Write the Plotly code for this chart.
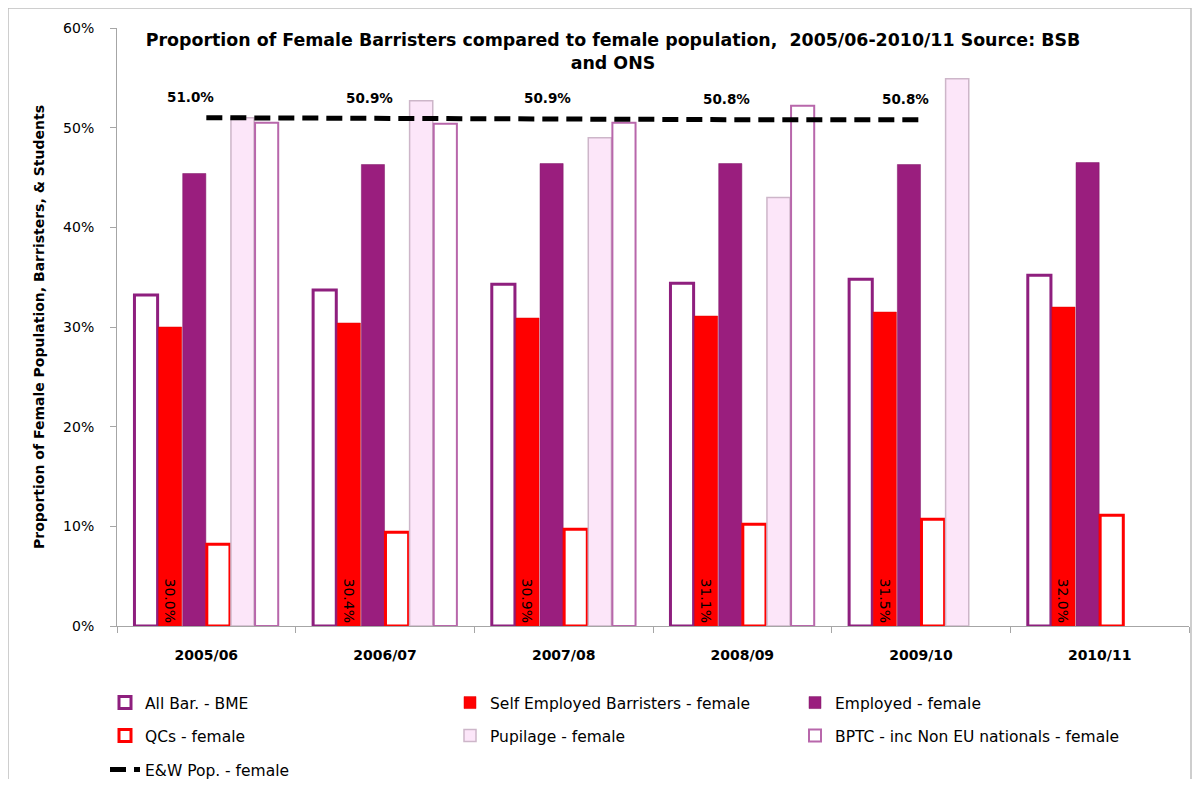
import plotly.graph_objects as go

categories = ["2005/06", "2006/07", "2007/08", "2008/09", "2009/10", "2010/11"]
all_bar_bme = [0.332, 0.337, 0.343, 0.344, 0.348, 0.352]
self_employed = [0.300, 0.304, 0.309, 0.311, 0.315, 0.320]
employed = [0.454, 0.463, 0.464, 0.464, 0.463, 0.465]
qcs = [0.082, 0.094, 0.097, 0.102, 0.107, 0.111]
pupilage = [0.510, 0.527, 0.490, 0.430, 0.549, None]
bptc = [0.505, 0.504, 0.505, 0.522, None, None]
ew_pop = [0.510, 0.509, 0.509, 0.508, 0.508]
y_ticks = [0, 0.1, 0.2, 0.3, 0.4, 0.5, 0.6]

# page body margin of 8px offsets the figure inside the window
OFF = 8
W, H = 1184, 771
L, T = 117 - OFF, 28 - OFF
R = W - (1189 - OFF)
B = H - (626 - OFF)
PW, PH = W - L - R, H - T - B

def px_x(p):
    return (p - OFF - L) / PW

def px_y(p):
    return (H - B - (p - OFF)) / PH

FONT = "DejaVu Sans"

fig = go.Figure()
fig.add_trace(go.Bar(name="All Bar. - BME", x=categories, y=all_bar_bme,
                     marker=dict(color="white", line=dict(color="#8E1F7E", width=3)),
                     legend="legend"))
fig.add_trace(go.Bar(name="Self Employed Barristers - female", x=categories, y=self_employed,
                     marker=dict(color="#FF0000", line=dict(color="#E00000", width=0.5)),
                     text=[f"{v*100:.1f}%" for v in self_employed],
                     textposition="inside", insidetextanchor="start", textangle=90,
                     textfont=dict(color="black", size=14, family=FONT),
                     legend="legend"))
fig.add_trace(go.Bar(name="Employed - female", x=categories, y=employed,
                     marker=dict(color="#9A1E7E", line=dict(color="#7E1767", width=0.5)),
                     legend="legend"))
fig.add_trace(go.Bar(name="QCs - female", x=categories, y=qcs,
                     marker=dict(color="white", line=dict(color="#FF0000", width=3)),
                     legend="legend2"))
fig.add_trace(go.Bar(name="Pupilage - female", x=categories, y=pupilage,
                     marker=dict(color="#FCE6F9", line=dict(color="#CDB6C9", width=1.5)),
                     legend="legend2"))
fig.add_trace(go.Bar(name="BPTC - inc Non EU nationals - female", x=categories, y=bptc,
                     marker=dict(color="white", line=dict(color="#B867AB", width=2)),
                     legend="legend2"))
fig.add_trace(go.Scatter(name="E&W Pop. - female", x=categories[:len(ew_pop)], y=ew_pop,
                         mode="lines", line=dict(color="black", width=5, dash="16px,8px"),
                         legend="legend3"))

for c, v in zip(categories, ew_pop):
    fig.add_annotation(x=c, y=v, text=f"<b>{v*100:.1f}%</b>", showarrow=False,
                       xshift=-16, yshift=21, font=dict(size=13.5, color="black", family=FONT))

legend_common = dict(orientation="h", xanchor="left", yanchor="middle",
                     entrywidth=300, entrywidthmode="pixels",
                     font=dict(size=15.5, color="black", family=FONT),
                     bgcolor="rgba(0,0,0,0)")
fig.update_layout(
    width=W, height=H,
    margin=dict(l=L, r=R, t=T, b=B, autoexpand=False),
    paper_bgcolor="white", plot_bgcolor="white",
    barmode="group", bargap=0.19, bargroupgap=0.04,
    font=dict(family=FONT, color="black"),
    title=dict(text="<b>Proportion of Female Barristers compared to female population,  2005/06-2010/11 Source: BSB<br>and ONS</b>",
               x=px_x(613), xanchor="center", xref="paper",
               y=1 - (46 - OFF) / H, yanchor="middle",
               font=dict(size=17.4, family=FONT, color="black")),
    legend=dict(x=px_x(105), y=px_y(703), **legend_common),
    legend2=dict(x=px_x(105), y=px_y(736), **legend_common),
    legend3=dict(x=px_x(105), y=px_y(770), **legend_common),
    xaxis=dict(showgrid=False, showline=True, linecolor="#A6A6A6", linewidth=1,
               ticks="outside", tickson="boundaries", ticklen=6, tickcolor="#A6A6A6",
               ticklabelstandoff=16,
               tickfont=dict(size=14, family=FONT, color="black"),
               tickprefix="<b>", ticksuffix="</b>"),
    yaxis=dict(range=[0, 0.6], tickvals=y_ticks, tickformat=".0%", showgrid=False,
               showline=True, linecolor="#A6A6A6", linewidth=1, ticks="outside",
               ticklen=6, tickcolor="#A6A6A6", zeroline=False, ticklabelstandoff=13,
               tickfont=dict(size=14, family=FONT, color="black"),
               tickprefix="<b>", ticksuffix="</b>",
               title=dict(text="<b>Proportion of Female Population, Barristers, & Students</b>",
                          font=dict(size=14, family=FONT, color="black"), standoff=15)),
)

fig.add_shape(type="rect", xref="paper", yref="paper",
              x0=px_x(8), x1=px_x(1191), y0=px_y(800), y1=px_y(8),
              line=dict(color="#BFBFBF", width=1.5), fillcolor="rgba(0,0,0,0)", layer="below")

fig.write_html("out.html")
